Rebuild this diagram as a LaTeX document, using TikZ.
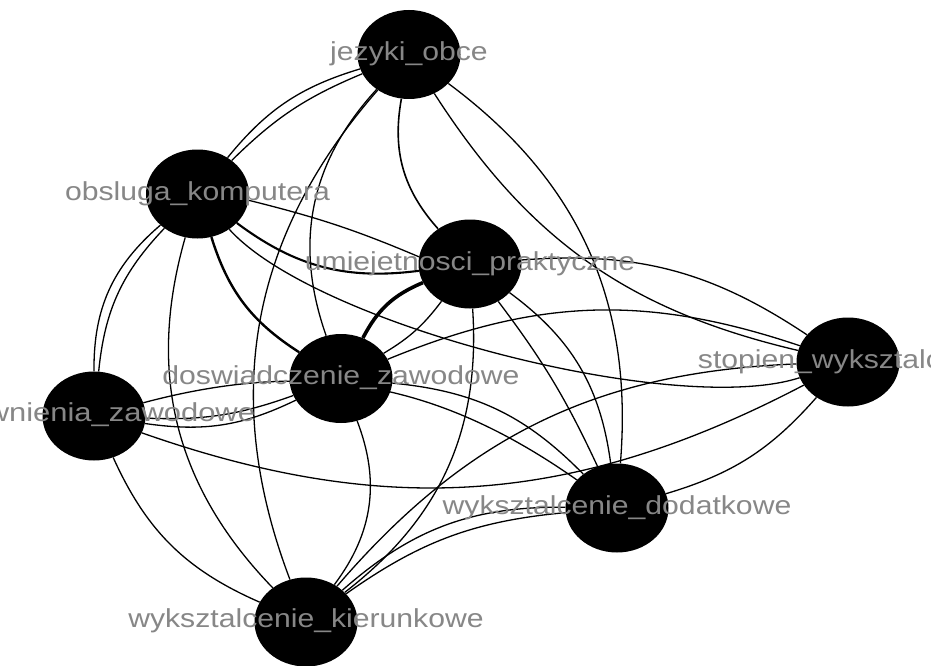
\documentclass[tikz,border=0pt]{standalone}
\usepackage{fontspec}
\setmainfont{Liberation Sans}
\usepackage{graphicx}
\usetikzlibrary{shapes.geometric}
\definecolor{lblgray}{RGB}{135,135,135}
\pgfdeclarelayer{edgelayer}
\pgfsetlayers{edgelayer,main}
\begin{document}
\begin{tikzpicture}[x=1pt,y=1pt,
  vert/.style={ellipse, fill=black, draw=none, minimum width=103pt, minimum height=89pt, inner sep=0pt},
  lbl/.style={anchor=base, text=lblgray, inner sep=0pt, font=\fontsize{26}{30}\selectfont},
  e/.style={draw=black, line width=1.3pt},
  ethick/.style={draw=black, line width=2.1pt},
  eheavy/.style={draw=black, line width=3.6pt}]
\useasboundingbox (0,0) rectangle (931,-666);
\clip (0,0) rectangle (931,-666);
% nodes
\node[vert] (J) at (409,-54.5) {};
\node[vert] (O) at (197.5,-194) {};
\node[vert] (P) at (470,-264) {};
\node[vert] (D) at (341,-378.5) {};
\node[vert] (U) at (94,-416) {};
\node[vert] (K) at (306,-622) {};
\node[vert] (S) at (848,-362) {};
\node[vert] (W) at (617,-508) {};
% edges
\begin{pgfonlayer}{edgelayer}
\fill[white] (0,0) rectangle (931,-666);
\draw[e] (J) to[bend right=17] (O);
\draw[e] (J) to[bend right=11] (O);
\draw[e, line width=1.6pt] (J) to[bend right=26] (P);
\draw[e] (J) to[bend right=31] (D);
\draw[e] (J) to[bend right=31] (K);
\draw[e] (J) to[bend left=29] (W);
\draw[e] (J) to[bend right=22] (S);
\draw[e] (O.353) to[out=-14,in=157] (P.172);
\draw[ethick] (O) to[bend right=22] (P);
\draw[ethick, line width=2.4pt] (O) to[bend right=20] (D);
\draw[e] (O) to[bend right=25] (U);
\draw[e] (O) to[bend right=19] (U);
\draw[e] (O) to[bend right=30] (K);
\draw[e] (O) to[out=-48,in=198,looseness=0.56] (S);
\draw[eheavy] (P) to[bend right=20] (D);
\draw[e] (D) to[bend right=11] (P);
\draw[e] (P) to[bend left=6] (W);
\draw[e] (P) to[bend left=23] (W);
\draw[e] (P) to[bend left=28] (K);
\draw[e] (P) to[bend left=19] (S);
\draw[e] (D) to[bend left=20.5] (S);
\draw[e] (D) to[bend left=20] (W);
\draw[e] (D) to[bend left=29] (K);
\draw[e] (U) to[bend right=11] (D);
\draw[e] (U) to[bend right=17] (D);
\draw[e] (U) to[bend left=25] (W);
\draw[e] (U) to[bend right=23.5] (S);
\draw[e] (U) to[bend right=21] (K);
\draw[e] (K) to[bend left=23.5] (S);
\draw[e] (K) to[bend left=21] (W);
\draw[e] (K) to[bend left=15] (W);
\draw[e] (W) to[bend right=16] (S);
\end{pgfonlayer}
% labels
\node[lbl] (lJ) at (409,-60.5) {\scalebox{1.16}[1]{jezyki\_obce}};
\node[lbl] (lO) at (197.5,-200) {\scalebox{1.16}[1]{obsluga\_komputera}};
\node[lbl] (lP) at (470,-270) {\scalebox{1.16}[1]{umiejetnosci\_praktyczne}};
\node[lbl] (lD) at (341,-384) {\scalebox{1.16}[1]{doswiadczenie\_zawodowe}};
\node[lbl] (lU) at (90,-421.5) {\scalebox{1.19}[1]{uprawnienia\_zawodowe}};
\node[lbl] (lK) at (306,-627) {\scalebox{1.16}[1]{wyksztalcenie\_kierunkowe}};
\node[lbl] (lS) at (848,-368) {\scalebox{1.16}[1]{stopien\_wyksztalcenia}};
\node[lbl] (lW) at (617,-514.5) {\scalebox{1.16}[1]{wyksztalcenie\_dodatkowe}};
\end{tikzpicture}
\end{document}
